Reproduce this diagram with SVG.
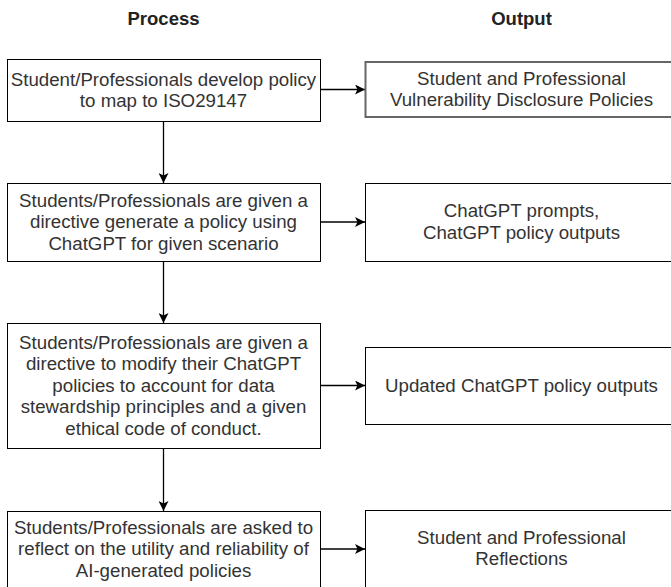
<svg xmlns="http://www.w3.org/2000/svg" width="671" height="587" viewBox="0 0 671 587">
<style>
.box{fill:#fff;stroke:#000;stroke-width:1}
.t{font-family:"Liberation Sans",Arial,sans-serif;font-size:18.7px;fill:#333;text-anchor:middle}
.h{font-family:"Liberation Sans",Arial,sans-serif;font-size:18.5px;font-weight:bold;fill:#222;text-anchor:middle}
.c{fill:none;stroke:#000;stroke-width:1.3}
</style>
<defs>
<marker id="ah" viewBox="0 0 10 10" refX="10" refY="5" markerWidth="10" markerHeight="10" markerUnits="userSpaceOnUse" orient="auto">
<path d="M0,0 L10,5 L0,10 L2.5,5 Z" fill="#000"/>
</marker>
</defs>
<rect width="671" height="587" fill="#fff"/>
<g id="headings">
<text class="h" x="163.5" y="25">Process</text>
<text class="h" x="521.5" y="25">Output</text>
</g>
<g id="connectors">
<line class="c" x1="163.5" y1="121" x2="163.5" y2="183" marker-end="url(#ah)"/>
<line class="c" x1="163.5" y1="261" x2="163.5" y2="323" marker-end="url(#ah)"/>
<line class="c" x1="163.5" y1="448" x2="163.5" y2="511" marker-end="url(#ah)"/>
<line class="c" x1="320" y1="89.5" x2="365" y2="89.5" marker-end="url(#ah)"/>
<line class="c" x1="320" y1="222" x2="365" y2="222" marker-end="url(#ah)"/>
<line class="c" x1="320" y1="385.5" x2="365" y2="385.5" marker-end="url(#ah)"/>
<line class="c" x1="320" y1="549" x2="365" y2="549" marker-end="url(#ah)"/>
</g>
<g id="p1">
<rect class="box" x="7.5" y="59.5" width="313" height="62"/>
<text class="t" x="163.5" y="85.5">Student/Professionals develop policy</text>
<text class="t" x="163.5" y="107">to map to ISO29147</text>
</g>
<g id="p2">
<rect class="box" x="7.5" y="183.5" width="313" height="78"/>
<text class="t" x="163.5" y="206.7">Students/Professionals are given a</text>
<text class="t" x="163.5" y="228.3">directive generate a policy using</text>
<text class="t" x="163.5" y="249.9">ChatGPT for given scenario</text>
</g>
<g id="p3">
<rect class="box" x="7.5" y="323.5" width="313" height="125"/>
<text class="t" x="163.5" y="348.6">Students/Professionals are given a</text>
<text class="t" x="163.5" y="370.2">directive to modify their ChatGPT</text>
<text class="t" x="163.5" y="391.8">policies to account for data</text>
<text class="t" x="163.5" y="413.4">stewardship principles and a given</text>
<text class="t" x="163.5" y="435">ethical code of conduct.</text>
</g>
<g id="p4">
<rect class="box" x="7.5" y="511.5" width="313" height="78"/>
<text class="t" x="163.5" y="533.7">Students/Professionals are asked to</text>
<text class="t" x="163.5" y="555.3">reflect on the utility and reliability of</text>
<text class="t" x="163.5" y="576.9">AI-generated policies</text>
</g>
<g id="o1">
<rect x="365.5" y="62" width="313" height="55" fill="#fff" stroke="#666" stroke-width="2"/>
<text class="t" x="521.5" y="84.5">Student and Professional</text>
<text class="t" x="521.5" y="106">Vulnerability Disclosure Policies</text>
</g>
<g id="o2">
<rect class="box" x="365.5" y="183.5" width="313" height="78"/>
<text class="t" x="521.5" y="217">ChatGPT prompts,</text>
<text class="t" x="521.5" y="238.6">ChatGPT policy outputs</text>
</g>
<g id="o3">
<rect class="box" x="365.5" y="347.5" width="313" height="77"/>
<text class="t" x="521.5" y="391.8">Updated ChatGPT policy outputs</text>
</g>
<g id="o4">
<rect class="box" x="365.5" y="510.5" width="313" height="78"/>
<text class="t" x="521.5" y="543.5">Student and Professional</text>
<text class="t" x="521.5" y="565">Reflections</text>
</g>
</svg>
